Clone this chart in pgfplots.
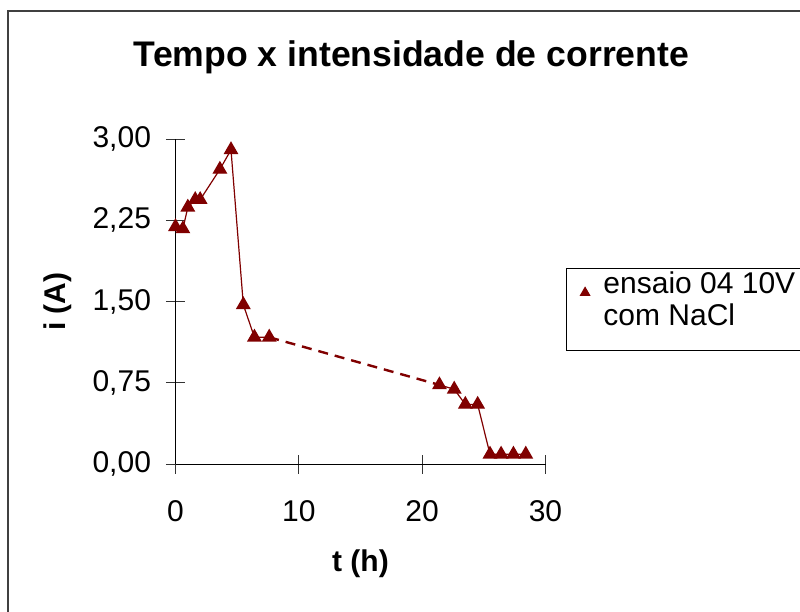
\documentclass[border=0pt]{standalone}
\usepackage{fontspec}
\setmainfont{Liberation Sans}
\usepackage{pgfplots}
\pgfplotsset{compat=1.18}
\definecolor{dred}{HTML}{800000}
\begin{document}
\begin{tikzpicture}
\useasboundingbox (0,0) rectangle (400bp,-306bp);
\clip (0,0) rectangle (400bp,-306bp);
\draw[line width=1bp, black!75] (4bp,-5.5bp) rectangle (420bp,-330bp);
\node[font=\bfseries\fontsize{17.8bp}{20bp}\selectfont, anchor=base] at (205.75bp,-33.3bp) {Tempo x intensidade de corrente};
\begin{axis}[
  at={(87.75bp,-232bp)}, anchor=south west,
  scale only axis, width=185bp, height=162.5bp,
  xmin=0, xmax=30, ymin=0, ymax=3,
  axis x line=bottom, axis y line=left,
  axis line style={-, line width=0.5bp, black},
  xtick={0,10,20,30}, ytick={0,0.75,1.5,2.25,3},
  tick align=center, major tick length=9.5bp,
  tick style={line width=0.5bp, black!80},
  minor tick num=0,
  clip=false,
  tick label style={font=\fontsize{15bp}{17bp}\selectfont},
  /pgf/number format/assume math mode=true,
  yticklabel style={/pgf/number format/.cd, fixed, fixed zerofill, precision=2, use comma, /tikz/.cd, xshift=-4bp},
  xticklabel style={/pgf/number format/.cd, fixed, precision=0, /tikz/.cd, yshift=-10bp},
  xlabel={t (h)}, ylabel={i (A)},
  label style={font=\bfseries\fontsize{15bp}{17bp}\selectfont},
  xlabel style={at={(axis description cs:0.5,-0.332)}, anchor=base},
  ylabel style={at={(axis description cs:-0.296,0.5)}, anchor=base, rotate=0},
  legend style={at={(axis description cs:1.0554,0.603)}, anchor=north west,
    draw=black, line width=0.5bp, font=\fontsize{15bp}{17bp}\selectfont,
    inner xsep=7bp, inner ysep=4.5bp, row sep=0pt,
    nodes={text height=8bp, text depth=8bp, inner ysep=0pt}},
  legend cell align=left,
]
\addplot[color=dred, line width=0.6bp, mark=triangle*, mark size=3.7bp,
  mark options={solid, fill=dred, draw=dred},
  legend image code/.code={\path[draw=none, fill=none] (0bp,0bp) rectangle (9.5bp,0.5bp);
    \path[draw=dred, fill=dred, mark=triangle*, mark size=2.6bp] plot coordinates {(2.3bp,0.4bp)};}]
  coordinates {(0,2.19) (0.6,2.17) (1.0,2.37) (1.6,2.44) (2.0,2.44) (3.6,2.72) (4.5,2.90) (5.5,1.47) (6.4,1.17) (7.6,1.17)};
\addlegendentry{ensaio 04 10V}
\addlegendimage{empty legend}
\addlegendentry{com NaCl}
\addplot[color=dred, line width=1.2bp, dash pattern=on 5bp off 3.5bp, forget plot]
  coordinates {(7.6,1.17) (21.4,0.73)};
\addplot[color=dred, line width=0.6bp, mark=triangle*, mark size=3.7bp,
  mark options={solid, fill=dred, draw=dred}, forget plot]
  coordinates {(21.4,0.73) (22.6,0.69) (23.5,0.55) (24.5,0.55) (25.5,0.09) (26.4,0.09) (27.4,0.09) (28.4,0.09)};
\end{axis}
\end{tikzpicture}
\end{document}
